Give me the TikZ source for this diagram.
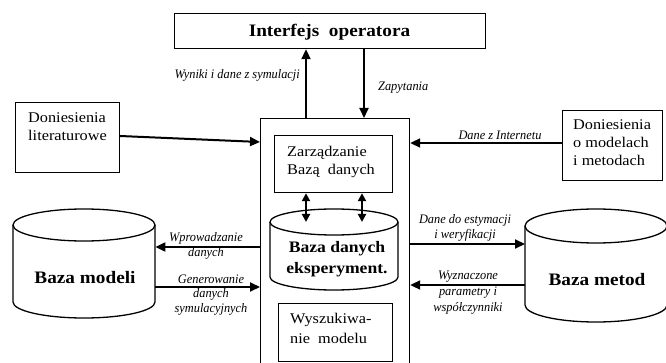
\documentclass[tikz,border=0pt]{standalone}
\usepackage{fontspec}
\setmainfont{Liberation Serif}[FakeStretch=1.1]
\newfontfamily\labfont{Liberation Serif}[FakeStretch=0.95]
\usetikzlibrary{arrows.meta}
\newcommand\mycyl[5]{%
  \pgfmathsetmacro\cylrx{(#2-#1)/2}%
  \draw[cyl] (#1,#3) arc[start angle=180,end angle=-180,x radius=\cylrx pt,y radius=#5 pt];
  \draw[cyl] (#1,#3) -- (#1,#4) arc[start angle=180,end angle=360,x radius=\cylrx pt,y radius=#5 pt] -- (#2,#3);
}
\begin{document}
\begin{tikzpicture}[x=1pt,y=-1pt,
  box/.style={draw,line width=1.2pt,inner sep=0pt,anchor=north west},
  area/.style={inner sep=0pt,anchor=north west},
  txt/.style={font=\fontsize{14.8}{18}\selectfont,align=left,inner sep=0pt,anchor=base west},
  big/.style={font=\fontsize{17.5}{21}\selectfont\bfseries,align=center,inner sep=0pt,anchor=base},
  lab/.style={font=\labfont\fontsize{13}{15.5}\selectfont\itshape,align=center,inner sep=0pt,anchor=base},
  arr/.style={line width=2pt,-{Triangle[length=10pt,width=9pt]}},
  darr/.style={line width=2pt,{Triangle[length=8pt,width=8pt]}-{Triangle[length=8pt,width=8pt]}},
  cyl/.style={line width=1.3pt}]
\path[use as bounding box,clip] (0,0) rectangle (666,363);

% boxes (multi-line text nodes are placed by the baseline of their last line)
\node[box,minimum width=311pt,minimum height=35pt] (iface) at (174,13) {};
\node[big] (ifacetxt) at (329.5,37) {Interfejs\ \ operatora};
\node[box,minimum width=149pt,minimum height=262pt] (main) at (260,118) {};
\node[box,minimum width=104pt,minimum height=70pt] (lit) at (15,102) {};
\node[txt] (littxt) at (28,141) {Doniesienia\\literaturowe};
\node[box,minimum width=100pt,minimum height=70pt] (rbox) at (562,110) {};
\node[txt] (rboxtxt) at (573,166) {Doniesienia\\o modelach\\i metodach};
\node[box,minimum width=118pt,minimum height=57pt] (zarz) at (274,135) {};
\node[txt] (zarztxt) at (287,175) {Zarządzanie\\Bazą\ \ danych};
\node[box,minimum width=114pt,minimum height=58pt] (wysz) at (278,303) {};
\node[txt,font=\fontsize{14.8}{20}\selectfont] (wysztxt) at (290,343) {Wyszukiwa-\\nie\ \ modelu};

% cylinders
\mycyl{13}{155}{225}{302}{16}
\mycyl{270}{398}{222}{277}{13}
\mycyl{525}{667}{226}{305}{17}
\node[area,minimum width=142pt,minimum height=77pt] (bmodc) at (13,225) {};
\node[area,minimum width=128pt,minimum height=55pt] (bdec) at (270,222) {};
\node[area,minimum width=142pt,minimum height=79pt] (bmetc) at (525,226) {};
\node[big] (bmodtxt) at (85,283) {Baza modeli};
\node[big] (bmettxt) at (597,285) {Baza metod};
\node[big,font=\fontsize{16}{21}\selectfont\bfseries] (bdetxt) at (337,273) {Baza danych\\eksperyment.};

% connectors
\draw[arr] (main.north -| 306,0) -- (iface.south -| 306,0);
\draw[arr] (iface.south -| 364,0) -- (main.north -| 364,0);
\draw[arr] (lit.east |- 0,136) -- (main.west |- 0,142);
\draw[arr] (rbox.west |- 0,143) -- (main.east |- 0,143);
\draw[arr] (main.west |- 0,247) -- (bmodc.east |- 0,247);
\draw[arr] (bmodc.east |- 0,287) -- (main.west |- 0,287);
\draw[arr] (main.east |- 0,244) -- (bmetc.west |- 0,244);
\draw[arr] (bmetc.west |- 0,285) -- (main.east |- 0,285);
\draw[darr] (zarz.south -| 306,0) -- (bdec.north -| 306,0);
\draw[darr] (zarz.south -| 362,0) -- (bdec.north -| 362,0);

% labels
\node[lab,anchor=base east] (lwyn) at (300,79) {Wyniki i dane z symulacji};
\node[lab,anchor=base west] (lzap) at (378,91) {Zapytania};
\node[lab] (ldzi) at (500,140) {Dane z Internetu};
\node[lab] (lwpr) at (206,257) {Wprowadzanie\\danych};
\node[lab,font=\labfont\fontsize{13}{14.5}\selectfont\itshape] (lgen) at (211,312) {Generowanie\\danych\\symulacyjnych};
\node[lab,font=\labfont\fontsize{13}{15}\selectfont\itshape] (lest) at (465,239) {Dane do estymacji\\i weryfikacji};
\node[lab,font=\labfont\fontsize{13}{16}\selectfont\itshape] (lwyz) at (468,311) {Wyznaczone\\parametry i\\współczynniki};
\end{tikzpicture}
\end{document}
